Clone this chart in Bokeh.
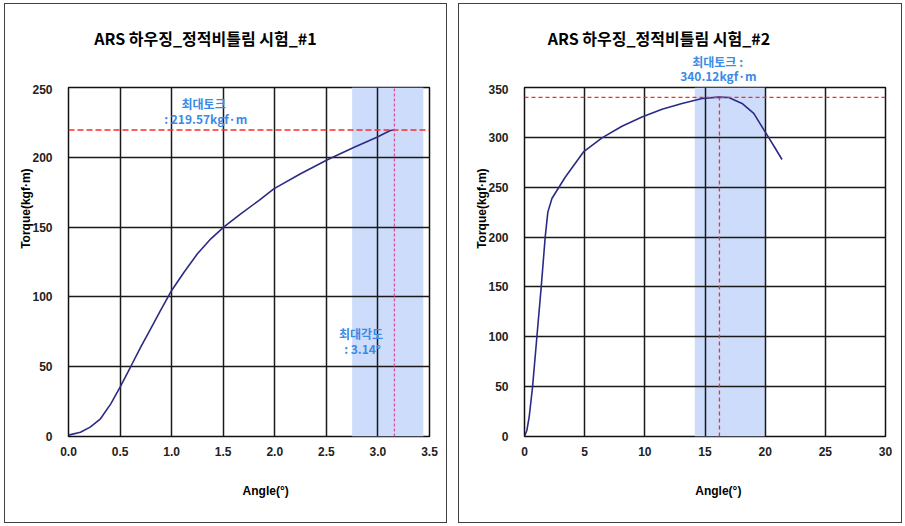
from bokeh.plotting import figure
from bokeh.layouts import row, column
from bokeh.models import Label, FixedTicker, Spacer, Range1d
from bokeh.embed import file_html
from bokeh.resources import INLINE

# ---------------- data ----------------
angle1 = [0.0, 0.116, 0.21, 0.31, 0.41, 0.50, 0.60, 0.70, 0.795, 0.89, 1.0, 1.12, 1.25,
          1.38, 1.51, 1.67, 1.845, 1.99, 2.25, 2.51, 2.77, 2.99, 3.12, 3.16]
torque1 = [1.0, 3.0, 6.7, 12.7, 23.4, 35.3, 49.6, 64.0, 77.0, 90.0, 104.6, 117.7, 130.9,
           141.6, 150.4, 159.5, 169.0, 177.4, 188.2, 198.2, 207.2, 214.4, 219.2, 219.6]
max_torque1 = 219.57
max_angle1 = 3.14
peak_angle1 = 3.16
band1 = [2.75, 3.44]
xticks1 = [0.0, 0.5, 1.0, 1.5, 2.0, 2.5, 3.0, 3.5]
yticks1 = [0, 50, 100, 150, 200, 250]

angle2 = [0.0, 0.2, 0.39, 0.67, 1.03, 1.39, 1.72, 1.94, 2.28, 3.38, 4.9, 6.44, 8.1, 9.76,
          11.43, 13.09, 14.76, 16.14, 16.97, 18.08, 19.05, 20.0, 20.85, 21.4]
torque2 = [0.0, 6.3, 19.7, 49.7, 100.0, 150.0, 200.0, 225.0, 238.7, 260.0, 285.4, 299.5,
           311.2, 320.5, 328.2, 334.0, 339.0, 340.3, 340.0, 334.0, 324.0, 305.5, 288.8, 277.8]
max_torque2 = 340.12
peak_angle2 = 16.2
band2 = [14.15, 20.0]
xticks2 = [0, 5, 10, 15, 20, 25, 30]
yticks2 = [0, 50, 100, 150, 200, 250, 300, 350]

title1 = "ARS 하우징_정적비틀림 시험_#1"
title2 = "ARS 하우징_정적비틀림 시험_#2"

CURVE = "#2B2B85"
BAND = "#CCDCFA"
RED = "#FF2A2A"
PINK = "#E0509A"
BLUE_TXT = "#3A8AE6"
FRAME_BORDER = "#404040"
TICK_FONT = "Liberation Sans"
KR_FONT = "Noto Sans CJK KR"
NB = "\u00a0"
HEAD_H = 80      # height of the title strip above each chart
FIG_H = 438      # height of each chart figure
PANEL_H = HEAD_H + FIG_H


def base_fig(width, xr, yr, xticks, yticks, left, right, xfmt):
    p = figure(width=width, height=FIG_H, x_range=xr, y_range=yr,
               output_backend="svg", toolbar_location=None,
               min_border_left=left, min_border_right=right,
               min_border_top=3, min_border_bottom=86)
    p.background_fill_color = "white"
    p.border_fill_color = "white"
    p.outline_line_color = "#111111"
    p.outline_line_width = 1.5
    for ax in (p.xaxis, p.yaxis):
        ax.axis_line_color = None
        ax.major_tick_line_color = None
        ax.minor_tick_line_color = None
        ax.major_label_text_font = TICK_FONT
        ax.major_label_text_font_style = "bold"
        ax.major_label_text_font_size = "12px"
        ax.major_label_text_color = "#222222"
        ax.axis_label_text_font = TICK_FONT
        ax.axis_label_text_font_style = "bold"
        ax.axis_label_text_font_size = "12px"
        ax.axis_label_text_color = "black"
    p.xaxis.ticker = FixedTicker(ticks=xticks)
    p.yaxis.ticker = FixedTicker(ticks=yticks)
    p.xaxis.major_label_standoff = 4
    p.yaxis.major_label_standoff = 10
    p.xaxis.axis_label_standoff = 25
    p.yaxis.axis_label_standoff = -4
    if xfmt:
        p.xaxis.major_label_overrides = {t: f"{t:.1f}" for t in xticks}
    for g in (p.xgrid, p.ygrid):
        g.grid_line_color = "#1a1a1a"
        g.grid_line_width = 1.5
    return p


def head_fig(width, x_range):
    # title strip; shares the chart's x scale so its texts sit over the chart
    h = figure(width=width, height=HEAD_H, x_range=x_range, y_range=Range1d(0, HEAD_H),
               output_backend="svg", toolbar_location=None,
               x_axis_location=None, y_axis_location=None,
               min_border=0, outline_line_color=None)
    h.grid.visible = False
    h.background_fill_color = "white"
    h.border_fill_color = "white"
    return h


def add_label(p, x, y, text, font=KR_FONT, size="12px", color="black"):
    p.add_layout(Label(x=x, y=y, text=text, text_font=font, text_font_size=size,
                       text_font_style="bold", text_color=color, text_align="center",
                       text_baseline="middle"))


def boxed(head, p, w):
    line = {"background-color": FRAME_BORDER}
    return column(
        Spacer(width=w + 2, height=3),
        Spacer(width=w + 2, height=1, styles=line),
        row(Spacer(width=1, height=PANEL_H, styles=line), column(head, p),
            Spacer(width=1, height=PANEL_H, styles=line)),
        Spacer(width=w + 2, height=1, styles=line),
    )


# ---------------- panel 1 ----------------
W1 = 441
p1 = base_fig(W1, Range1d(0, 3.5), Range1d(0, 250), xticks1, yticks1, 63, 17, True)
h1 = head_fig(W1, p1.x_range)
add_label(h1, 1.328, 47, title1, size="16px")
p1.quad(left=[band1[0]], right=[band1[1]], bottom=[0], top=[250],
        fill_color=BAND, line_color=None, level="image")
p1.line(angle1, torque1, line_color=CURVE, line_width=1.6)
p1.line([0, 3.5], [max_torque1, max_torque1], line_color=RED, line_width=1.3, line_dash="6 3")
p1.line([peak_angle1, peak_angle1], [0, 250], line_color=PINK, line_width=1.3, line_dash="3 2")
add_label(p1, 1.31, 238.5, "최대토크", color=BLUE_TXT)
add_label(p1, 1.33, 227.8, f": {max_torque1:.2f}kgf·m", color=BLUE_TXT)
add_label(p1, 2.836, 73.6, "최대각도", color=BLUE_TXT)
add_label(p1, 2.85, 62.8, f": {max_angle1:.2f}°", color=BLUE_TXT)
p1.yaxis.axis_label = NB * 32 + "Torque(kgf·m)"
p1.xaxis.axis_label = NB * 10 + "Angle(°)"

# ---------------- panel 2 ----------------
W2 = 442
p2 = base_fig(W2, Range1d(0, 30), Range1d(0, 350), xticks2, yticks2, 65, 16, False)
h2 = head_fig(W2, p2.x_range)
add_label(h2, 11.18, 47, title2, size="16px")
add_label(h2, 16.05, 23, "최대토크 :", color=BLUE_TXT)
add_label(h2, 16.11, 9, f"{max_torque2:.2f}kgf·m", color=BLUE_TXT)
p2.quad(left=[band2[0]], right=[band2[1]], bottom=[0], top=[350],
        fill_color=BAND, line_color=None, level="image")
p2.line(angle2, torque2, line_color=CURVE, line_width=1.6)
p2.line([0, 30], [max_torque2, max_torque2], line_color=RED, line_width=1.3, line_dash="4 3")
p2.line([peak_angle2, peak_angle2], [0, max_torque2], line_color=RED, line_width=1.3, line_dash="4 3")
p2.yaxis.axis_label = NB * 32 + "Torque(kgf·m)"
p2.xaxis.axis_label = NB * 8 + "Angle(°)"

layout = row(Spacer(width=4, height=526), boxed(h1, p1, W1),
             Spacer(width=11, height=526), boxed(h2, p2, W2))
open("out.html", "w").write(file_html(layout, INLINE))
